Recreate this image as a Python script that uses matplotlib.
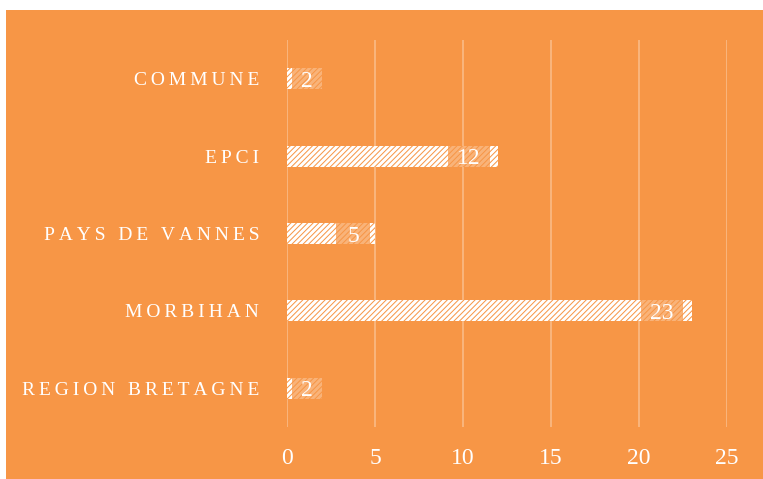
import numpy as np
import matplotlib
matplotlib.use("Agg")
import matplotlib.pyplot as plt
from matplotlib.patches import Rectangle

categories = ["COMMUNE", "EPCI", "PAYS DE VANNES", "MORBIHAN", "REGION BRETAGNE"]
values = [2, 12, 5, 23, 2]
xticks = [0, 5, 10, 15, 20, 25]

ORANGE = "#F79646"
plt.rcParams['font.family'] = ['Liberation Serif', 'DejaVu Serif']
plt.rcParams['hatch.linewidth'] = 2.1


def spaced(s):
    # letter-spaced caps, as in the original
    return "\u2009".join(s)


fig = plt.figure(figsize=(7.63, 4.79), dpi=100)
fig.patch.set_facecolor("white")
fig.add_artist(Rectangle((6 / 763, 0), 1, 1 - 10 / 479, transform=fig.transFigure,
                         facecolor=ORANGE, edgecolor="none", zorder=0))

ax = fig.add_axes([287 / 763, 1 - 427 / 479, (727 - 287) / 763, (427 - 40) / 479])
ax.set_facecolor("none")
y = np.arange(len(categories))
bar_h = 0.27
ax.barh(y, values, height=bar_h, color=ORANGE, edgecolor="white", linewidth=0,
        hatch="//////", zorder=2)

# data labels sit in a translucent box near the end of each bar
for yi, v in zip(y, values):
    one_digit = len(str(v)) == 1
    if v <= 3:
        right = v
    else:
        right = v - (0.3 if one_digit else 0.48)
    left = max(right - (1.9 if one_digit else 2.4), 0.3)
    ax.barh(yi, right - left, left=left, height=bar_h, color=ORANGE, alpha=0.72,
            linewidth=0, zorder=3)
    ax.text((left + right) / 2, yi, str(v), ha="center", va="center_baseline",
            color="white", fontsize=17, zorder=4)

ax.set_xlim(0, 25)
ax.set_ylim(len(categories) - 0.5, -0.5)
ax.set_xticks(xticks)
ax.set_xticklabels([str(t) for t in xticks], color="white", fontsize=17)
ax.set_yticks(y)
ax.set_yticklabels([spaced(c) for c in categories], color="white", fontsize=14)
ax.tick_params(axis="both", length=0)
ax.tick_params(axis="x", pad=15)
ax.tick_params(axis="y", pad=20)
ax.grid(axis="x", color="white", alpha=0.35, linewidth=1.2, zorder=1)
for s in ax.spines.values():
    s.set_visible(False)

fig.savefig("out.png", dpi=100, facecolor=fig.get_facecolor())
